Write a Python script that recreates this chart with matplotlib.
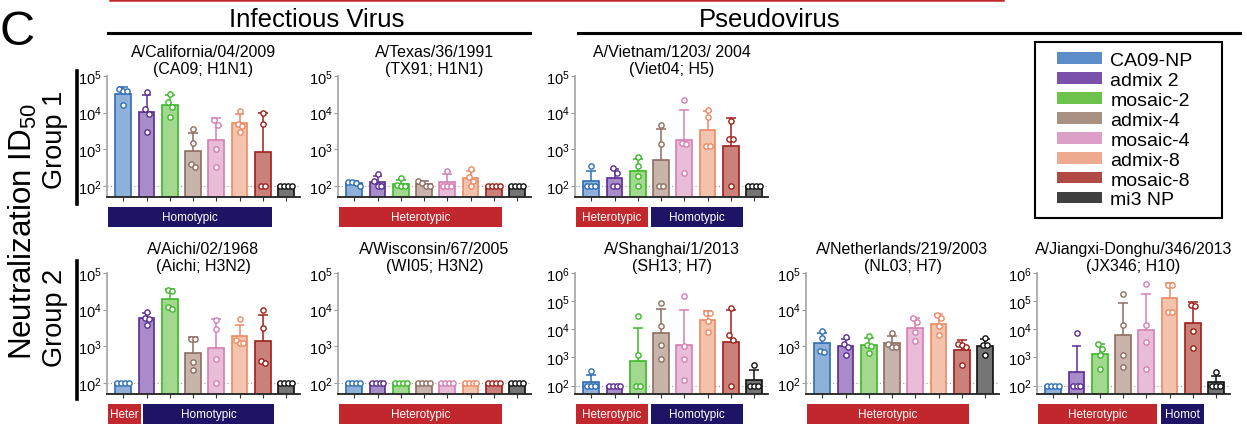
import numpy as np
import matplotlib
matplotlib.use("Agg")
import matplotlib.pyplot as plt
from matplotlib.patches import Rectangle, Patch
from matplotlib.lines import Line2D
from matplotlib.transforms import blended_transform_factory
from matplotlib.ticker import NullLocator

plt.rcParams['font.family'] = ['Liberation Sans', 'DejaVu Sans']
plt.rcParams['mathtext.default'] = 'regular'

# vaccine groups
groups = ['CA09-NP', 'admix 2', 'mosaic-2', 'admix-4', 'mosaic-4', 'admix-8', 'mosaic-8', 'mi3 NP']
edge_cols = ['#2e6db4', '#5b2c91', '#3db82a', '#8d6e60', '#d47fb5', '#ec8a63', '#9e1f1a', '#111111']
fill_cols = ['#8fb1d9', '#a88bc9', '#a3d98f', '#c8b4aa', '#e9bcd8', '#f4c3ad', '#c9817a', '#757575']
leg_cols = ['#5b8ec8', '#7b50ab', '#6cc24a', '#a89083', '#dca0c8', '#eeaa8f', '#b04a42', '#404040']

# ID50 titers per mouse (4 per group)
ca09 = [[44700, 39800, 38000, 16200], [37000, 12600, 9300, 2900], [32400, 20000, 14100, 7600],
        [3500, 1500, 410, 330], [6200, 4700, 1000, 320], [11200, 5000, 4200, 3000],
        [10000, 4900, 100, 100], [100, 100, 100, 100]]
tx91 = [[132, 126, 120, 100], [214, 135, 100, 100], [170, 105, 100, 100],
        [138, 123, 100, 100], [263, 100, 100, 100], [295, 174, 135, 100],
        [100, 100, 100, 100], [100, 100, 100, 100]]
viet04 = [[355, 100, 100, 100], [302, 229, 100, 100], [600, 355, 186, 100],
          [4700, 1380, 100, 100], [21900, 1500, 1400, 230], [12000, 7400, 1230, 1230],
          [5900, 1950, 1950, 100], [100, 100, 100, 100]]
aichi = [[100, 100, 100, 100], [8900, 6000, 5600, 3700], [33900, 31600, 11700, 10500],
         [1550, 1550, 370, 230], [5100, 2900, 440, 100], [5500, 1500, 1260, 1260],
         [9500, 3200, 400, 340], [100, 100, 100, 100]]
wi05 = [[100, 100, 100, 100]] * 8
sh13 = [[320, 100, 100, 100], [100, 100, 100, 100], [29500, 1170, 100, 100],
        [87000, 13500, 2800, 910], [151000, 2500, 890, 155], [39000, 37000, 19500, 8300],
        [57500, 6300, 4000, 100], [550, 100, 100, 100]]
nl03 = [[2570, 1660, 760, 720], [1740, 1150, 930, 590], [1950, 1100, 1050, 660],
        [2240, 1150, 930, 930], [6000, 4500, 2500, 1400], [7200, 6000, 3500, 2000],
        [1150, 1100, 930, 300], [1700, 1100, 1100, 590]]
jx346 = [[100, 100, 100, 100], [7400, 100, 100, 100], [2900, 1950, 1200, 390],
         [182000, 13800, 1200, 470], [407000, 14500, 3500, 390], [380000, 380000, 40700, 40700],
         [70800, 66000, 8500, 2100], [295, 100, 100, 100]]

RED = '#c1272d'
NAVY = '#1e1466'

# (data, title, col, row, top exponent, tag bars)
panels = [
    (ca09, 'A/California/04/2009\n(CA09; H1N1)', 0, 0, 5, [('Homotypic', -0.66, 6.4, NAVY)]),
    (tx91, 'A/Texas/36/1991\n(TX91; H1N1)', 1, 0, 5, [('Heterotypic', -0.66, 6.36, RED)]),
    (viet04, 'A/Vietnam/1203/ 2004\n(Viet04; H5)', 2, 0, 5,
     [('Heterotypic', -0.66, 2.44, RED), ('Homotypic', 2.57, 6.53, NAVY)]),
    (aichi, 'A/Aichi/02/1968\n(Aichi; H3N2)', 0, 1, 5,
     [('Heter', -0.66, 0.76, RED), ('Homotypic', 0.85, 6.49, NAVY)]),
    (wi05, 'A/Wisconsin/67/2005\n(WI05; H3N2)', 1, 1, 5, [('Heterotypic', -0.66, 6.36, RED)]),
    (sh13, 'A/Shanghai/1/2013\n(SH13; H7)', 2, 1, 6,
     [('Heterotypic', -0.66, 2.44, RED), ('Homotypic', 2.57, 6.53, NAVY)]),
    (nl03, 'A/Netherlands/219/2003\n(NL03; H7)', 3, 1, 5, [('Heterotypic', -0.66, 6.3, RED)]),
    (jx346, 'A/Jiangxi-Donghu/346/2013\n(JX346; H10)', 4, 1, 6,
     [('Heterotypic', -0.66, 4.46, RED), ('Homot', 4.63, 6.48, NAVY)]),
]

W, H = 1247, 427
fig = plt.figure(figsize=(W / 100, H / 100), dpi=100)

col_x = [107, 338, 575, 806, 1037]
row_top = [77, 274]
ax_w, ax_h = 193, 121


# spread points with near-equal values side by side (like a dot plot)
def spread(vals, thr, step=0.17):
    lv = np.log10(vals)
    off = np.zeros(len(lv))
    order = np.argsort(-lv)
    clusters = []
    for i in order:
        if clusters and abs(lv[i] - lv[clusters[-1][0]]) < thr:
            clusters[-1].append(i)
        else:
            clusters.append([i])
    for c in clusters:
        n = len(c)
        off[c] = (np.arange(n) - (n - 1) / 2) * step
    return off


for data, title, col, row, top, tags in panels:
    left = col_x[col] / W
    bottom = 1 - (row_top[row] + ax_h) / H
    ax = fig.add_axes([left, bottom, ax_w / W, ax_h / H])
    ax.set_yscale('log')
    ax.set_ylim(50, 10 ** top)
    ax.set_xlim(-0.7, 7.6)
    ax.axhline(100, color='#999999', lw=0.8, ls=(0, (1, 2)), zorder=0)
    thr = 0.16 if top == 5 else 0.21
    for i, vals in enumerate(data):
        lv = np.log10(vals)
        gm = 10 ** lv.mean()      # geometric mean
        sd = lv.std(ddof=1)       # geometric SD
        ax.bar(i, gm, width=0.68, color=fill_cols[i], edgecolor=edge_cols[i], lw=1.2, zorder=2)
        if sd > 0.01:
            hi = 10 ** (lv.mean() + sd)
            ax.vlines(i, gm, hi, color=edge_cols[i], lw=1.1, zorder=3)
            ax.hlines(hi, i - 0.21, i + 0.21, color=edge_cols[i], lw=1.1, zorder=3)
        ax.plot(i + spread(vals, thr), vals, 'o', ms=3.8, mfc='white', mec=edge_cols[i],
                mew=1.0, zorder=4, clip_on=False)
    ax.set_xticks(range(8))
    ax.set_xticklabels([])
    ax.tick_params(axis='x', length=3, width=0.8, color='#333333')
    ax.set_yticks([10 ** k for k in range(2, top + 1)])
    ax.yaxis.set_minor_locator(NullLocator())
    ax.tick_params(axis='y', length=3, width=0.8, color='#999999', labelsize=10.5, pad=1)
    for s in ['top', 'right']:
        ax.spines[s].set_visible(False)
    ax.spines['left'].set_color('#aaaaaa')
    ax.spines['left'].set_linewidth(1.3)
    ax.spines['bottom'].set_color('#222222')
    ax.spines['bottom'].set_linewidth(1.3)
    ax.set_title(title, fontsize=11.5, pad=1, linespacing=1.2)
    trans = blended_transform_factory(ax.transData, ax.transAxes)
    for name, x0, x1, c in tags:
        ax.add_patch(Rectangle((x0, -0.248), x1 - x0, 0.166, transform=trans,
                               facecolor=c, edgecolor='none', clip_on=False))
        ax.text((x0 + x1) / 2, -0.165, name, transform=trans, color='white',
                fontsize=8.5, ha='center', va='center')

# headers
fig.text(0.0, 1 - 45 / H, 'C', fontsize=35, va='baseline', ha='left')
fig.add_artist(Line2D([110 / W, 1003 / W], [1 - 1 / H, 1 - 1 / H], color=RED, lw=1.8))
fig.text(317 / W, 1 - 20 / H, 'Infectious Virus', fontsize=18.5, ha='center', va='center')
fig.add_artist(Line2D([108 / W, 530 / W], [1 - 34 / H, 1 - 34 / H], color='black', lw=2.2))
fig.text(770 / W, 1 - 20 / H, 'Pseudovirus', fontsize=18.5, ha='center', va='center')
fig.add_artist(Line2D([578 / W, 1240 / W], [1 - 34 / H, 1 - 34 / H], color='black', lw=2.2))

# y labels
fig.text(23 / W, 1 - 232 / H, 'Neutralization ID$_{50}$', fontsize=22.5, rotation=90,
         ha='center', va='center')
fig.text(55 / W, 1 - 140 / H, 'Group 1', fontsize=19.5, rotation=90, ha='center', va='center')
fig.text(55 / W, 1 - 318 / H, 'Group 2', fontsize=19.5, rotation=90, ha='center', va='center')
fig.add_artist(Line2D([77 / W, 77 / W], [1 - 72 / H, 1 - 205 / H], color='black', lw=2.6))
fig.add_artist(Line2D([77 / W, 77 / W], [1 - 262 / H, 1 - 400 / H], color='black', lw=2.6))

# legend with its own box
fig.add_artist(Rectangle((1035 / W, 1 - 219 / H), 187 / W, 176 / H, transform=fig.transFigure,
                         facecolor='none', edgecolor='black', lw=1.5))
handles = [Patch(facecolor=c, edgecolor='none') for c in leg_cols]
fig.legend(handles, groups, loc='upper left', bbox_to_anchor=(1057 / W, 1 - 53 / H),
           fontsize=14, frameon=False, handlelength=2.3, handleheight=0.55,
           labelspacing=0.15, borderpad=0, handletextpad=0.45, borderaxespad=0)

fig.savefig('out.png', dpi=100)
